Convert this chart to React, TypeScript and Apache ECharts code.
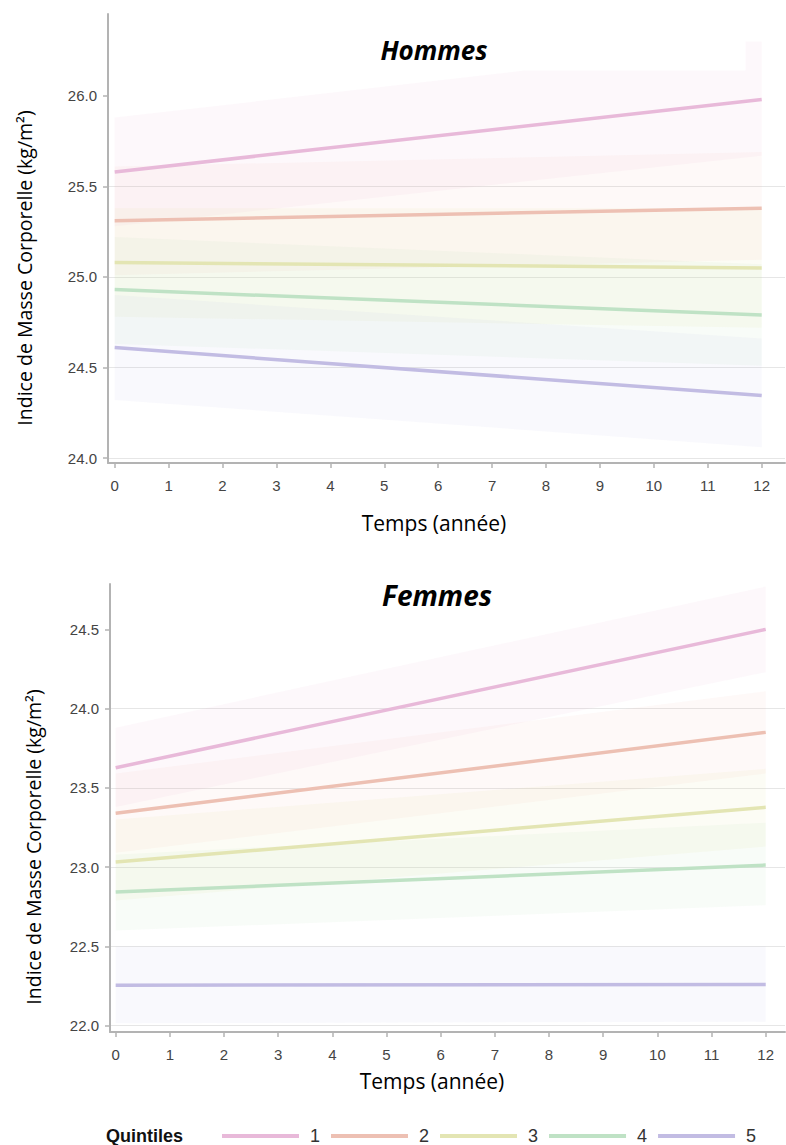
import React, { useEffect, useRef } from "react";
import * as echarts from "echarts";

// ---------- data ----------
const quintiles = ["1", "2", "3", "4", "5"];
const years = [0, 12];
const xTicks = [0, 1, 2, 3, 4, 5, 6, 7, 8, 9, 10, 11, 12];
const yTicksHommes = [24.0, 24.5, 25.0, 25.5, 26.0];
const yTicksFemmes = [22.0, 22.5, 23.0, 23.5, 24.0, 24.5];

const lineColors = ["#E8B9D9", "#EDC0B3", "#E3E5B3", "#BFE2C5", "#C2BCE3"];
const bandColors = [
  "rgba(232,160,205,0.075)",
  "rgba(238,165,145,0.065)",
  "rgba(222,226,140,0.09)",
  "rgba(170,212,165,0.08)",
  "rgba(180,175,222,0.075)",
];

// Hommes: predicted BMI at year 0 and year 12, per quintile
const hommesLines = [
  [25.58, 25.98],
  [25.31, 25.38],
  [25.08, 25.05],
  [24.93, 24.79],
  [24.61, 24.345],
];
// confidence band edges as [year, value]
const hommesUpper = [
  [[0, 25.88], [7.6, 26.14], [11.7, 26.14], [11.7, 26.3], [12, 26.3]],
  [[0, 25.61], [12, 25.69]],
  [[0, 25.38], [12, 25.38]],
  [[0, 25.22], [12, 25.07]],
  [[0, 24.9], [12, 24.66]],
];
const hommesLower = [
  [[0, 25.28], [12, 25.67]],
  [[0, 25.01], [12, 25.095]],
  [[0, 24.78], [12, 24.72]],
  [[0, 24.63], [12, 24.51]],
  [[0, 24.32], [12, 24.06]],
];

// Femmes
const femmesLines = [
  [23.627, 24.5],
  [23.34, 23.85],
  [23.032, 23.377],
  [22.843, 23.013],
  [22.255, 22.26],
];
const femmesUpper = [
  [[0, 23.88], [12, 24.77]],
  [[0, 23.59], [12, 24.11]],
  [[0, 23.3], [12, 23.62]],
  [[0, 23.08], [12, 23.28]],
  [[0, 22.5], [12, 22.5]],
];
const femmesLower = [
  [[0, 23.38], [12, 24.23]],
  [[0, 23.09], [12, 23.59]],
  [[0, 22.79], [12, 23.13]],
  [[0, 22.6], [12, 22.76]],
  [[0, 22.015], [12, 22.025]],
];

const LABEL_FONT = "Liberation Sans";
const TITLE_FONT = "Open Sans";

function bandSeries(gridIdx: number, upper: number[][][], lower: number[][][]) {
  return upper.map((up, i) => {
    const lo = lower[i];
    return {
      type: "custom",
      name: "band" + gridIdx + "-" + i,
      xAxisIndex: gridIdx,
      yAxisIndex: gridIdx,
      z: 1,
      silent: true,
      clip: false,
      data: up.concat(lo),
      encode: { x: 0, y: 1 },
      renderItem: (params: any, api: any) => {
        if (params.dataIndex !== 0) return null;
        const pts = up
          .map((p) => api.coord(p))
          .concat(lo.slice().reverse().map((p) => api.coord(p)));
        return {
          type: "polygon",
          shape: { points: pts },
          style: { fill: bandColors[i], stroke: null },
        };
      },
    };
  });
}

function lineSeries(gridIdx: number, lines: number[][]) {
  return lines.map((vals, i) => ({
    type: "line",
    name: quintiles[i],
    xAxisIndex: gridIdx,
    yAxisIndex: gridIdx,
    z: 3,
    showSymbol: false,
    symbol: "none",
    silent: true,
    data: years.map((t, k) => [t, vals[k]]),
    lineStyle: { color: lineColors[i], width: 3.5 },
    itemStyle: { color: lineColors[i] },
  }));
}

function xAxisCfg(gridIdx: number, min: number, max: number) {
  return {
    type: "value",
    gridIndex: gridIdx,
    min,
    max,
    axisLine: { show: true, onZero: false, lineStyle: { color: "#b3b3b3", width: 2 } },
    axisTick: {
      show: true,
      length: 5,
      customValues: xTicks,
      lineStyle: { color: "#b3b3b3", width: 1.5 },
    },
    axisLabel: {
      customValues: xTicks,
      margin: 15,
      fontSize: 15,
      color: "#444",
      fontFamily: LABEL_FONT,
    },
    splitLine: { show: false },
  };
}

function yAxisCfg(gridIdx: number, min: number, max: number, ticks: number[]) {
  return {
    type: "value",
    gridIndex: gridIdx,
    min,
    max,
    axisLine: { show: true, onZero: false, lineStyle: { color: "#b3b3b3", width: 2 } },
    axisTick: {
      show: true,
      length: 5,
      customValues: ticks,
      lineStyle: { color: "#b3b3b3", width: 1.5 },
    },
    axisLabel: {
      customValues: ticks,
      margin: 11,
      fontSize: 15,
      color: "#444",
      fontFamily: LABEL_FONT,
      formatter: (v: number) => v.toFixed(1),
    },
    splitLine: {
      show: true,
      showMinLine: true,
      showMaxLine: false,
      lineStyle: { color: "#e6e6e6", width: 1 },
    },
  };
}

export default function App() {
  const ref = useRef<HTMLDivElement>(null);
  useEffect(() => {
    if (!ref.current) return;
    const chart = echarts.init(ref.current, undefined, { renderer: "svg" });
    const yTitle = "Indice de Masse Corporelle (kg/m²)";
    const option: any = {
      animation: false,
      backgroundColor: "#ffffff",
      grid: [
        { left: 108, top: 14, width: 677, height: 449, containLabel: false },
        { left: 110, top: 584, width: 675, height: 448, containLabel: false },
      ],
      xAxis: [xAxisCfg(0, -0.124, 12.432), xAxisCfg(1, -0.105, 12.356)],
      yAxis: [
        yAxisCfg(0, 23.9724, 26.4523, yTicksHommes),
        yAxisCfg(1, 21.96, 24.786, yTicksFemmes),
      ],
      legend: {
        show: true,
        data: quintiles,
        left: 222,
        top: 1127,
        padding: 0,
        orient: "horizontal",
        icon: "rect",
        itemWidth: 77,
        itemHeight: 4,
        itemGap: 11,
        selectedMode: false,
        textStyle: {
          fontSize: 18,
          color: "#333",
          fontFamily: LABEL_FONT,
          padding: [0, 0, 0, 6],
        },
      },
      graphic: [
        {
          type: "text",
          x: 434,
          y: 50,
          style: {
            text: "Hommes",
            align: "center",
            verticalAlign: "middle",
            font: "italic bold 26px 'Open Sans'",
            fill: "#000",
          },
        },
        {
          type: "text",
          x: 437,
          y: 595,
          style: {
            text: "Femmes",
            align: "center",
            verticalAlign: "middle",
            font: "italic bold 28px 'Open Sans'",
            fill: "#000",
          },
        },
        {
          type: "text",
          x: 434,
          y: 523,
          style: {
            text: "Temps (année)",
            align: "center",
            verticalAlign: "middle",
            font: "21px '" + TITLE_FONT + "'",
            fill: "#000",
          },
        },
        {
          type: "text",
          x: 432,
          y: 1081,
          style: {
            text: "Temps (année)",
            align: "center",
            verticalAlign: "middle",
            font: "21px '" + TITLE_FONT + "'",
            fill: "#000",
          },
        },
        {
          type: "text",
          x: 24,
          y: 268,
          rotation: Math.PI / 2,
          style: {
            text: yTitle,
            align: "center",
            verticalAlign: "middle",
            font: "19.5px '" + TITLE_FONT + "'",
            fill: "#000",
          },
        },
        {
          type: "text",
          x: 33,
          y: 847,
          rotation: Math.PI / 2,
          style: {
            text: yTitle,
            align: "center",
            verticalAlign: "middle",
            font: "19.5px '" + TITLE_FONT + "'",
            fill: "#000",
          },
        },
        {
          type: "text",
          x: 106,
          y: 1136,
          style: {
            text: "Quintiles",
            align: "left",
            verticalAlign: "middle",
            font: "bold 18px " + LABEL_FONT,
            fill: "#111",
          },
        },
      ],
      series: [
        ...bandSeries(0, hommesUpper, hommesLower),
        ...bandSeries(1, femmesUpper, femmesLower),
        ...lineSeries(0, hommesLines),
        ...lineSeries(1, femmesLines),
      ],
    };
    chart.setOption(option);
    return () => chart.dispose();
  }, []);
  return (
    <div
      ref={ref}
      style={{ position: "absolute", left: 0, top: 0, width: 786, height: 1145 }}
    />
  );
}
